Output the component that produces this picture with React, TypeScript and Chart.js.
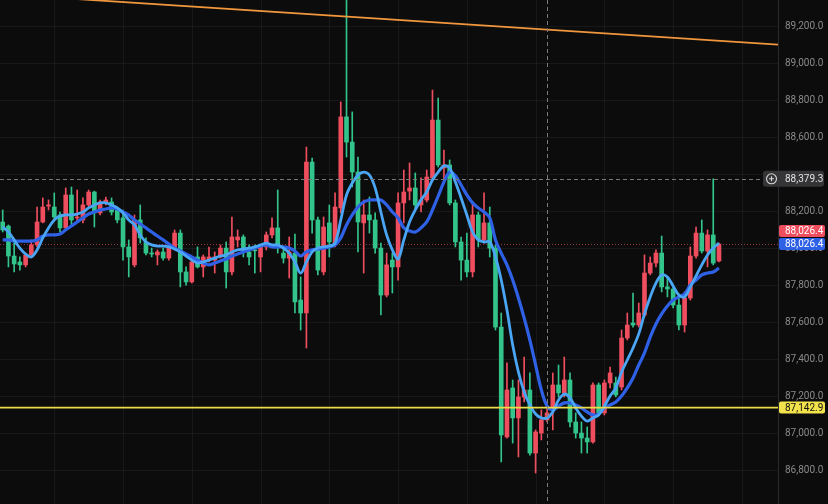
import React, { useEffect, useRef } from "react";
import { Chart, registerables } from "chart.js";
Chart.register(...registerables);

// ---- data ----
const candleOpen = [88146,88124,87962,87930,87914,87968,88022,88146,88232,88227,88184,88114,88292,88168,88157,88238,88308,88195,88249,88254,88211,88168,88011,87914,88157,88038,87978,87968,87984,87951,88005,88086,87876,87822,87957,87903,87940,87940,87957,88005,87876,88049,88065,87984,87995,87957,88011,88076,88114,87978,87951,87978,87724,87654,88470,88157,87876,88141,88022,88222,88714,88578,88416,88141,88184,88157,88005,87751,87940,87903,88249,88313,88330,88238,88265,88384,88697,88438,88454,88249,88038,87940,87876,88184,88049,88141,88005,87578,86984,87249,87087,87200,87238,86897,87005,87076,87146,87265,87222,87292,87065,87005,86978,86957,87265,87114,87276,87276,87254,87519,87600,87589,87643,87870,87924,87978,87795,87784,87697,87589,87735,87962,88086,87989,88076,87935];
const candleHigh = [88211,88130,88032,87957,87978,88049,88227,88276,88265,88303,88200,88330,88335,88319,88276,88319,88313,88265,88281,88276,88227,88211,88049,88184,88238,88060,88005,87995,88005,88011,88103,88103,87903,87951,88011,87968,88011,87984,88022,88038,88173,88103,88076,88022,88022,88022,88092,88168,88319,88011,88065,88081,87849,88551,88492,88173,88173,88238,88303,88795,89350,88741,88497,88265,88281,88195,88032,87978,87978,88303,88427,88465,88411,88384,88427,88859,88816,88535,88481,88265,88065,88086,88254,88200,88303,88227,88022,87654,87384,87292,87292,87416,87330,87022,87130,87168,87330,87373,87416,87330,87114,87065,87038,87276,87276,87292,87362,87308,87562,87654,87762,87708,87968,87957,87995,88070,87849,87795,87735,87768,88011,88119,88157,88103,88379.3,88032];
const candleLow = [88092,87903,87876,87886,87903,87957,88011,88141,88211,88157,88092,88103,88130,88146,88141,88227,88119,88184,88238,88184,88141,87940,87849,87903,88032,87968,87957,87914,87940,87940,87995,87795,87805,87816,87897,87849,87930,87870,87951,87789,87860,88011,87957,87914,87870,87876,87995,88060,87978,87924,87843,87654,87562,87465,88086,87860,87860,87957,88011,88195,88497,88335,87984,87870,88086,87978,87643,87741,87762,87832,88141,88265,88211,88200,88254,88373,88443,88362,88238,88011,87832,87849,87849,88011,88032,87957,87562,86849,86978,86951,86876,87173,86886,86789,86968,87065,87022,87200,87200,87038,86978,86897,86897,86951,87103,87103,87249,87200,87238,87508,87578,87578,87632,87860,87903,87768,87741,87681,87562,87551,87724,87951,87978,87903,87914,87930];
const candleClose = [88103,87962,87919,87914,87968,88022,88146,88227,88238,88173,88114,88292,88157,88173,88238,88308,88195,88254,88265,88200,88157,88011,87957,88157,88060,87978,87973,87984,87951,88005,88086,87876,87822,87930,87903,87957,87957,87957,88005,87876,88065,88065,87995,87957,87990,88011,88076,88114,88022,87951,87984,87714,87654,88470,88157,87886,88119,88038,88227,88714,88578,88416,88146,88184,88157,88005,87751,87914,87903,88249,88308,88330,88238,88265,88389,88697,88454,88454,88249,88038,87940,87876,88184,88049,88141,88005,87578,86995,87238,87087,87200,87238,86897,87011,87076,87114,87265,87222,87292,87065,87005,86978,86957,87265,87114,87276,87330,87211,87519,87589,87589,87654,87870,87924,87978,87795,87784,87697,87589,87735,87962,88086,87989,88076,87924,88026.4];
const maFast = [88119,88092,88049,88005,87973,87957,87995,88060,88114,88157,88178,88184,88184,88189,88200,88222,88238,88249,88249,88238,88222,88195,88157,88130,88076,88038,88022,88016,88016,88011,88000,87984,87962,87940,87924,87930,87940,87951,87962,87968,87984,87995,88000,88005,88011,88022,88032,88022,88022,88005,87978,87930,87870,87930,87984,88005,88011,88016,88032,88157,88292,88357,88400,88416,88400,88330,88200,88076,87995,87946,88049,88146,88211,88265,88308,88373,88416,88449,88438,88362,88276,88184,88092,88049,88038,88038,87957,87832,87670,87481,87335,87227,87157,87108,87087,87087,87119,87184,87216,87195,87141,87097,87070,87087,87103,87151,87205,87249,87335,87400,87465,87541,87649,87741,87816,87860,87849,87800,87751,87741,87795,87854,87914,87968,88005,88032];
const maSlow = [88049,88049,88043,88043,88043,88043,88049,88070,88076,88076,88081,88103,88124,88146,88168,88189,88200,88211,88216,88222,88216,88200,88184,88157,88135,88114,88092,88070,88049,88027,88005,87989,87973,87957,87940,87924,87914,87924,87935,87946,87962,87973,87984,87995,88005,88016,88022,88011,88011,88011,88005,87989,87962,87984,87995,88000,88005,88011,88022,88060,88130,88184,88227,88254,88265,88265,88265,88238,88200,88168,88114,88097,88092,88114,88146,88211,88286,88362,88416,88395,88346,88292,88249,88222,88200,88168,88049,87978,87914,87832,87735,87627,87508,87373,87238,87151,87130,87151,87168,87168,87157,87141,87119,87103,87108,87141,87157,87173,87205,87249,87303,87373,87438,87524,87595,87649,87692,87724,87741,87757,87805,87832,87860,87870,87876,87897];
const priceTicks = [86800, 87000, 87200, 87400, 87600, 87800, 88000, 88200, 88400, 88600, 88800, 89000, 89200];
const timeGridIdx = [9, 21, 33, 45, 57, 69, 81, 93, 105, 117, 129];
const lastPrice = 88026.4;
const indicatorPrice = 88026.4;
const crosshairPrice = 88379.3;
const crosshairIdx = 95;
const supportPrice = 87142.9;
const trendIdx = [10, 136];
const trendPrice = [89357, 89103];

// ---- styles ----
const RED = "#ee4e5e";
const GREEN = "#33c48b";
const FAST = "#4aa6f4";
const SLOW = "#2e61e6";
const BG = "#0c0c0d";
const GRID = "rgba(255,255,255,0.05)";
const FONT = "Roboto, 'DejaVu Sans', sans-serif";

const fmt = (v: number) =>
  Number(v).toLocaleString("en-US", { minimumFractionDigits: 1, maximumFractionDigits: 1 });

function rrect(ctx: CanvasRenderingContext2D, x: number, y: number, w: number, h: number, r: number) {
  ctx.beginPath();
  ctx.moveTo(x + r, y);
  ctx.lineTo(x + w - r, y);
  ctx.quadraticCurveTo(x + w, y, x + w, y + r);
  ctx.lineTo(x + w, y + h - r);
  ctx.quadraticCurveTo(x + w, y + h, x + w - r, y + h);
  ctx.lineTo(x + r, y + h);
  ctx.quadraticCurveTo(x, y + h, x, y + h - r);
  ctx.lineTo(x, y + r);
  ctx.quadraticCurveTo(x, y, x + r, y);
  ctx.closePath();
}

const overlay = {
  id: "overlay",
  beforeDatasetsDraw(chart: any) {
    const { ctx, chartArea: a, scales } = chart;
    const x = scales.x, y = scales.y;
    ctx.save();
    ctx.strokeStyle = GRID;
    ctx.lineWidth = 1;
    timeGridIdx.forEach((i) => {
      const px = Math.round(x.getPixelForValue(i)) + 0.5;
      ctx.beginPath();
      ctx.moveTo(px, a.top);
      ctx.lineTo(px, a.bottom);
      ctx.stroke();
    });
    const ly = Math.round(y.getPixelForValue(lastPrice)) + 0.5;
    ctx.strokeStyle = "rgba(232,78,91,0.6)";
    ctx.setLineDash([1, 2]);
    ctx.beginPath();
    ctx.moveTo(a.left, ly);
    ctx.lineTo(a.right, ly);
    ctx.stroke();
    ctx.restore();
  },
  afterDatasetsDraw(chart: any) {
    const { ctx, chartArea: a, scales } = chart;
    const x = scales.x, y = scales.y;
    ctx.save();
    ctx.beginPath();
    ctx.rect(a.left, a.top, a.right - a.left, a.bottom - a.top);
    ctx.clip();
    ctx.strokeStyle = "#f0963c";
    ctx.lineWidth = 1.8;
    ctx.beginPath();
    ctx.moveTo(x.getPixelForValue(trendIdx[0]), y.getPixelForValue(trendPrice[0]));
    ctx.lineTo(x.getPixelForValue(trendIdx[1]), y.getPixelForValue(trendPrice[1]));
    ctx.stroke();
    const sy = y.getPixelForValue(supportPrice);
    ctx.strokeStyle = "#ecdc48";
    ctx.lineWidth = 1.8;
    ctx.beginPath();
    ctx.moveTo(a.left, sy);
    ctx.lineTo(a.right, sy);
    ctx.stroke();
    ctx.strokeStyle = "#7a7a7a";
    ctx.lineWidth = 1;
    ctx.setLineDash([4, 3]);
    const cy = Math.round(y.getPixelForValue(crosshairPrice)) + 0.5;
    ctx.beginPath();
    ctx.moveTo(a.left, cy);
    ctx.lineTo(a.right, cy);
    ctx.stroke();
    const cx = Math.round(x.getPixelForValue(crosshairIdx)) + 0.5;
    ctx.beginPath();
    ctx.moveTo(cx, a.top);
    ctx.lineTo(cx, a.bottom);
    ctx.stroke();
    ctx.restore();
  },
  afterDraw(chart: any) {
    const { ctx, chartArea: a, scales } = chart;
    const y = scales.y;
    ctx.save();
    ctx.font = `10px ${FONT}`;
    ctx.textBaseline = "middle";
    ctx.textAlign = "left";
    const tagX = a.right + 1;
    const tagW = 46;
    const tagH = 12;
    const by = y.getPixelForValue(indicatorPrice);
    ctx.fillStyle = SLOW;
    rrect(ctx, tagX, by - tagH / 2, tagW, tagH, 2);
    ctx.fill();
    ctx.fillStyle = "#fff";
    ctx.fillText(fmt(indicatorPrice), tagX + 6, by + 0.5);
    const ry = by - tagH - 1;
    ctx.fillStyle = RED;
    rrect(ctx, tagX, ry - tagH / 2, tagW, tagH, 2);
    ctx.fill();
    ctx.fillStyle = "#fff";
    ctx.fillText(fmt(lastPrice), tagX + 6, ry + 0.5);
    const sy = y.getPixelForValue(supportPrice);
    ctx.fillStyle = "#f2e24b";
    rrect(ctx, tagX, sy - tagH / 2, tagW, tagH, 2);
    ctx.fill();
    ctx.fillStyle = "#111";
    ctx.fillText(fmt(supportPrice), tagX + 6, sy + 0.5);
    const cy = y.getPixelForValue(crosshairPrice);
    ctx.fillStyle = "#353537";
    rrect(ctx, a.right - 15, cy - 8, 61, 16, 3);
    ctx.fill();
    ctx.strokeStyle = "#d8d8d8";
    ctx.lineWidth = 1.1;
    const ix = a.right - 6.5;
    ctx.beginPath();
    ctx.arc(ix, cy, 5, 0, Math.PI * 2);
    ctx.stroke();
    ctx.beginPath();
    ctx.moveTo(ix - 2.5, cy);
    ctx.lineTo(ix + 2.5, cy);
    ctx.moveTo(ix, cy - 2.5);
    ctx.lineTo(ix, cy + 2.5);
    ctx.stroke();
    ctx.fillStyle = "#e2e2e2";
    ctx.fillText(fmt(crosshairPrice), tagX + 6, cy + 0.5);
    ctx.restore();
  },
};

export default function App() {
  const ref = useRef<HTMLCanvasElement>(null);
  useEffect(() => {
    document.body.style.margin = "0";
    document.body.style.background = BG;
    const idx = candleOpen.map((_, i) => i);
    const colors = idx.map((i) => (candleClose[i] >= candleOpen[i] ? RED : GREEN));
    const chart = new Chart(ref.current as HTMLCanvasElement, {
      type: "bar",
      data: {
        datasets: [
          {
            type: "line",
            label: "MA slow",
            data: idx.map((i) => ({ x: i, y: maSlow[i] })),
            borderColor: SLOW,
            borderWidth: 3.2,
            pointRadius: 0,
            tension: 0.35,
            order: 1,
          } as any,
          {
            type: "line",
            label: "MA fast",
            data: idx.map((i) => ({ x: i, y: maFast[i] })),
            borderColor: FAST,
            borderWidth: 2.8,
            pointRadius: 0,
            tension: 0.35,
            order: 0,
          } as any,
          {
            type: "bar",
            label: "wick",
            data: idx.map((i) => ({ x: i, y: [candleLow[i], candleHigh[i]] })),
            backgroundColor: colors,
            barThickness: 1,
            grouped: false,
            order: 3,
          } as any,
          {
            type: "bar",
            label: "body",
            data: idx.map((i) => ({ x: i, y: [candleOpen[i], candleClose[i]] })),
            backgroundColor: colors,
            barThickness: 4,
            minBarLength: 1,
            grouped: false,
            order: 2,
          } as any,
        ],
      },
      options: {
        responsive: false,
        animation: false,
        layout: { padding: 0 },
        plugins: { legend: { display: false }, tooltip: { enabled: false } },
        scales: {
          x: { type: "linear", display: false, min: -0.47, max: 135.3, offset: false } as any,
          y: {
            position: "right",
            min: 86621.6,
            max: 89345.9,
            afterFit: (s: any) => {
              s.width = 50;
              s.paddingTop = 0;
              s.paddingBottom = 0;
            },
            afterBuildTicks: (s: any) => {
              s.ticks = priceTicks.map((v) => ({ value: v }));
            },
            grid: { color: GRID, drawTicks: false },
            border: { display: true, color: "#2a2a2c" },
            ticks: {
              color: "#8a8a8a",
              padding: 7,
              font: { family: FONT, size: 10 },
              callback: (v: any) => (Math.abs(v - crosshairPrice) < 60 ? "" : fmt(v)),
            },
          } as any,
        },
      },
      plugins: [overlay],
    });
    return () => chart.destroy();
  }, []);
  return (
    <div style={{ width: 828, height: 504, background: BG }}>
      <canvas ref={ref} width={828} height={504} style={{ display: "block", width: 828, height: 504 }} />
    </div>
  );
}
